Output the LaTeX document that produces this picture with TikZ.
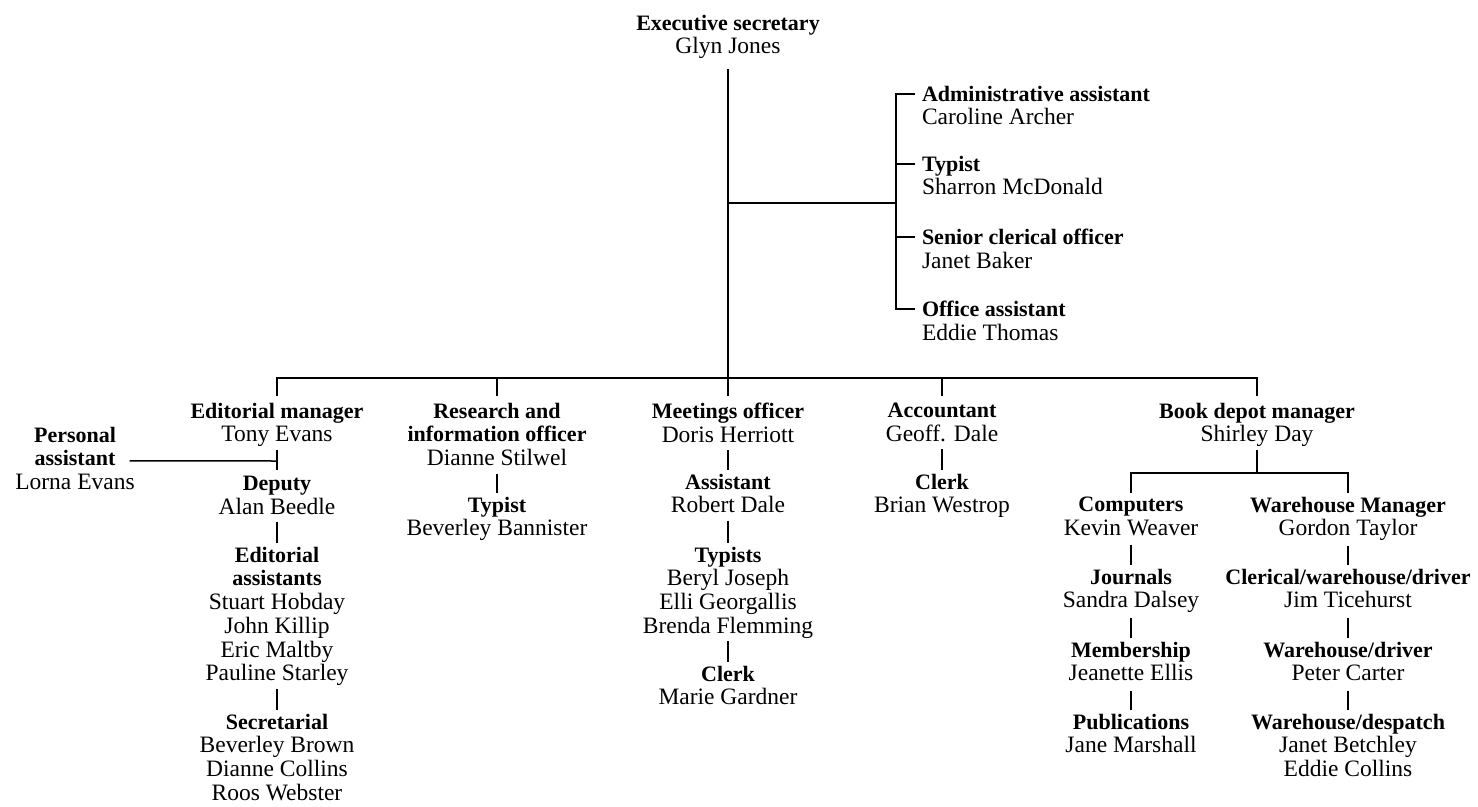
\documentclass[tikz,border=0pt]{standalone}
\usepackage{fontspec}
\setmainfont{Liberation Serif}
\newcommand\stt{\rule[-5pt]{0pt}{16pt}}
\newcommand\ttl[1]{{\fontsize{22}{23.7}\selectfont\bfseries #1}\stt}
\newcommand\nme[1]{#1\stt}
\tikzset{
  box/.style={inner sep=0pt, outer sep=0pt, align=center, anchor=north,
    font=\fontsize{23.5}{23.7}\selectfont},
  lbox/.style={box, align=left, anchor=north west},
  conn/.style={line width=1.5pt, line cap=butt},
}
\begin{document}
\begin{tikzpicture}[x=1pt,y=-1pt]
\fill[white] (0,0) rectangle (1478,806);
\useasboundingbox (0,0) rectangle (1478,806);

% top
\node[box] (exec) at (728,15) {\ttl{Executive secretary}\\\nme{Glyn Jones}};
\node[lbox] (adm) at (922,86)  {\ttl{Administrative assistant}\\\nme{Caroline Archer}};
\node[lbox] (typ) at (922,156) {\ttl{Typist}\\\nme{Sharron McDonald}};
\node[lbox] (sco) at (922,229) {\ttl{Senior clerical officer}\\\nme{Janet Baker}};
\node[lbox] (off) at (922,301) {\ttl{Office assistant}\\\nme{Eddie Thomas}};

% level 2
\node[box] (ed)  at (277,403)  {\ttl{Editorial manager}\\\nme{Tony Evans}};
\node[box] (res) at (497,403)  {\ttl{Research and}\\\ttl{information officer}\\\nme{Dianne Stilwel}};
\node[box] (mtg) at (728,403)  {\ttl{Meetings officer}\\\nme{Doris Herriott}};
\node[box] (acc) at (942,403)  {\ttl{Accountant}\\\nme{Geoff. Dale}};
\node[box] (bk)  at (1257,403) {\ttl{Book depot manager}\\\nme{Shirley Day}};

% editorial column
\node[box] (pa)   at (75,427)  {\ttl{Personal}\\\ttl{assistant}\\\nme{Lorna Evans}};
\node[box] (dep)  at (277,476) {\ttl{Deputy}\\\nme{Alan Beedle}};
\node[box] (edas) at (277,547) {\ttl{Editorial}\\\ttl{assistants}\\\nme{Stuart Hobday}\\\nme{John Killip}\\\nme{Eric Maltby}\\\nme{Pauline Starley}};
\node[box] (sec)  at (277,714) {\ttl{Secretarial}\\\nme{Beverley Brown}\\\nme{Dianne Collins}\\\nme{Roos Webster}};

% research column
\node[box] (rtyp) at (497,497) {\ttl{Typist}\\\nme{Beverley Bannister}};

% meetings column
\node[box] (asst) at (728,474) {\ttl{Assistant}\\\nme{Robert Dale}};
\node[box] (typs) at (728,547) {\ttl{Typists}\\\nme{Beryl Joseph}\\\nme{Elli Georgallis}\\\nme{Brenda Flemming}};
\node[box] (mclk) at (728,666) {\ttl{Clerk}\\\nme{Marie Gardner}};

% accountant column
\node[box] (aclk) at (942,474) {\ttl{Clerk}\\\nme{Brian Westrop}};

% book depot
\node[box] (comp) at (1131,497) {\ttl{Computers}\\\nme{Kevin Weaver}};
\node[box] (jour) at (1131,569) {\ttl{Journals}\\\nme{Sandra Dalsey}};
\node[box] (memb) at (1131,642) {\ttl{Membership}\\\nme{Jeanette Ellis}};
\node[box] (pub)  at (1131,714) {\ttl{Publications}\\\nme{Jane Marshall}};
\node[box] (wm)   at (1348,497) {\ttl{Warehouse Manager}\\\nme{Gordon Taylor}};
\node[box] (cwd)  at (1348,569) {\ttl{Clerical/warehouse/driver}\\\nme{Jim Ticehurst}};
\node[box] (wd)   at (1348,642) {\ttl{Warehouse/driver}\\\nme{Peter Carter}};
\node[box] (wdes) at (1348,714) {\ttl{Warehouse/despatch}\\\nme{Janet Betchley}\\\nme{Eddie Collins}};

% coordinates
\coordinate (bus) at (728,378);
\coordinate (ebr) at (728,203);
\coordinate (bj)  at (896,203);
\coordinate (pj)  at (277,461);
\coordinate (bkj) at (1257,473);

% trunk and executive side branch
\draw[conn] ([yshift=-10pt]exec.south) -- (bus);
\draw[conn] (ebr) -- (bj);
\draw[conn] ([xshift=-7pt,yshift=-8pt]adm.north west) -- ++(-19,0) |- ([xshift=-7pt,yshift=-8pt]off.north west);
\draw[conn] ([xshift=-7pt,yshift=-8pt]typ.north west) -- ++(-19,0);
\draw[conn] ([xshift=-7pt,yshift=-8pt]sco.north west) -- ++(-19,0);

% main bus
\draw[conn] ([yshift=7pt]ed.north) -- (ed.north |- bus) -- (bk.north |- bus) -- ([yshift=7pt]bk.north);
\draw[conn] (res.north |- bus) -- ([yshift=7pt]res.north);
\draw[conn] (bus) -- ([yshift=7pt]mtg.north);
\draw[conn] (acc.north |- bus) -- ([yshift=7pt]acc.north);

% editorial
\draw[conn] ([yshift=-3pt]ed.south) -- ([yshift=6pt]dep.north);
\draw[conn] ([xshift=-5pt]pa.east) -- (pj);
\draw[conn] ([yshift=-3pt]dep.south) -- ([yshift=4pt]edas.north);
\draw[conn] ([yshift=-3pt]edas.south) -- ([yshift=4pt]sec.north);

% research
\draw[conn] ([yshift=-3pt]res.south) -- ([yshift=4pt]rtyp.north);

% meetings
\draw[conn] ([yshift=-3pt]mtg.south) -- ([yshift=4pt]asst.north);
\draw[conn] ([yshift=-3pt]asst.south) -- ([yshift=4pt]typs.north);
\draw[conn] ([yshift=-3pt]typs.south) -- ([yshift=4pt]mclk.north);

% accountant
\draw[conn] ([yshift=-3pt]acc.south) -- ([yshift=4pt]aclk.north);

% book depot
\draw[conn] ([yshift=-3pt]bk.south) -- (bkj);
\draw[conn] ([yshift=4pt]comp.north) -- (comp.north |- bkj) -- (wm.north |- bkj) -- ([yshift=4pt]wm.north);
\draw[conn] ([yshift=-5pt]comp.south) -- ([yshift=4pt]jour.north);
\draw[conn] ([yshift=-5pt]jour.south) -- ([yshift=4pt]memb.north);
\draw[conn] ([yshift=-5pt]memb.south) -- ([yshift=4pt]pub.north);
\draw[conn] ([yshift=-5pt]wm.south) -- ([yshift=4pt]cwd.north);
\draw[conn] ([yshift=-5pt]cwd.south) -- ([yshift=4pt]wd.north);
\draw[conn] ([yshift=-5pt]wd.south) -- ([yshift=4pt]wdes.north);
\end{tikzpicture}
\end{document}
